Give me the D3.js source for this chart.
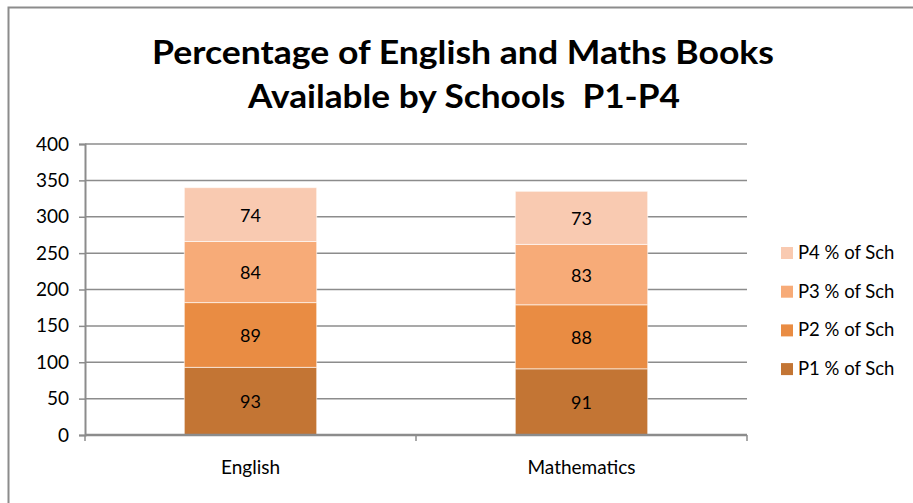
<!DOCTYPE html>
<html>
<head>
<meta charset="utf-8">
<script src="https://cdn.jsdelivr.net/npm/d3@7"></script>
<style>
  html, body { margin: 0; padding: 0; background: #fff; }
  svg { display: block; font-family: Lato, "Open Sans", sans-serif; }
</style>
</head>
<body>
<svg id="chart" width="913" height="503"></svg>
<script>
// Subjects on the x axis
const categories = ["English", "Mathematics"];
// Percentage of schools with books, per grade (stacked bottom to top)
const seriesNames = ["P1 % of Sch", "P2 % of Sch", "P3 % of Sch", "P4 % of Sch"];
const p1 = [93, 91];
const p2 = [89, 88];
const p3 = [84, 83];
const p4 = [74, 73];
const yTicks = [0, 50, 100, 150, 200, 250, 300, 350, 400];
const colors = ["#C37534", "#E98C43", "#F7AB78", "#F9CAB1"];

const svg = d3.select("#chart");
const W = 913, H = 503;

// Chart frame
svg.append("rect")
  .attr("x", 8.5).attr("y", 7.5)
  .attr("width", W + 10).attr("height", H + 10)
  .attr("fill", "#fff").attr("stroke", "#8c8c8c").attr("stroke-width", 2);

// Title
const title = svg.append("text")
  .attr("text-anchor", "middle")
  .attr("font-weight", "bold")
  .attr("font-size", 33)
  .attr("fill", "#000")
  .style("white-space", "pre");
title.append("tspan").attr("x", 463).attr("y", 64)
  .attr("textLength", 622).attr("lengthAdjust", "spacingAndGlyphs")
  .text("Percentage of English and Maths Books");
title.append("tspan").attr("x", 464).attr("y", 108)
  .attr("textLength", 432).attr("lengthAdjust", "spacingAndGlyphs")
  .text("Available by Schools  P1-P4");

const plot = { left: 85, right: 747, top: 144, bottom: 435 };

const x = d3.scaleBand().domain(categories).range([plot.left, plot.right]).paddingInner(0.6).paddingOuter(0.3);
const y = d3.scaleLinear().domain([0, 400]).range([plot.bottom, plot.top]);

// Horizontal gridlines
svg.append("g")
  .selectAll("line")
  .data(yTicks.filter(d => d > 0))
  .join("line")
  .attr("x1", plot.left).attr("x2", plot.right)
  .attr("y1", d => y(d)).attr("y2", d => y(d))
  .attr("stroke", "#8c8c8c").attr("stroke-width", 1.5);

// Stacked data
const table = categories.map((c, i) => ({
  cat: c,
  [seriesNames[0]]: p1[i],
  [seriesNames[1]]: p2[i],
  [seriesNames[2]]: p3[i],
  [seriesNames[3]]: p4[i]
}));
const stacked = d3.stack().keys(seriesNames)(table);

const layers = svg.append("g")
  .selectAll("g")
  .data(stacked)
  .join("g")
  .attr("fill", (d, i) => colors[i]);

layers.selectAll("rect")
  .data(d => d)
  .join("rect")
  .attr("x", d => x(d.data.cat))
  .attr("width", x.bandwidth())
  .attr("y", d => y(d[1]))
  .attr("height", d => y(d[0]) - y(d[1]))
  .attr("stroke", "#fff")
  .attr("stroke-opacity", 0.6)
  .attr("stroke-width", 1);

// Segment value labels
layers.selectAll("text")
  .data(d => d)
  .join("text")
  .attr("x", d => x(d.data.cat) + x.bandwidth() / 2)
  .attr("y", d => (y(d[0]) + y(d[1])) / 2 + 7)
  .attr("text-anchor", "middle")
  .attr("font-size", 18)
  .attr("fill", "#000")
  .text(d => d[1] - d[0]);

// Y axis
const yAxis = svg.append("g")
  .attr("transform", `translate(${plot.left},0)`)
  .call(d3.axisLeft(y).tickValues(yTicks).tickSize(6).tickPadding(10));
yAxis.select(".domain").attr("stroke", "#8c8c8c").attr("stroke-width", 2);
yAxis.selectAll(".tick line").attr("stroke", "#8c8c8c").attr("stroke-width", 1.5);
yAxis.selectAll(".tick text")
  .attr("font-size", 19).attr("fill", "#000")
  .attr("font-family", "Lato, 'Open Sans', sans-serif");

// X axis
const xAxis = svg.append("g")
  .attr("transform", `translate(0,${plot.bottom})`);
xAxis.append("line")
  .attr("x1", plot.left).attr("x2", plot.right)
  .attr("stroke", "#8c8c8c").attr("stroke-width", 2.5);
const boundaries = [plot.left, (plot.left + plot.right) / 2, plot.right];
xAxis.selectAll(".bound")
  .data(boundaries)
  .join("line")
  .attr("class", "bound")
  .attr("x1", d => d).attr("x2", d => d)
  .attr("y1", 0).attr("y2", 6)
  .attr("stroke", "#8c8c8c").attr("stroke-width", 1.5);
xAxis.selectAll(".cat")
  .data(categories)
  .join("text")
  .attr("class", "cat")
  .attr("x", d => x(d) + x.bandwidth() / 2)
  .attr("y", 39)
  .attr("text-anchor", "middle")
  .attr("font-size", 19)
  .attr("fill", "#000")
  .text(d => d);

// Legend (top entry is the top of the stack)
const legendItems = seriesNames.map((n, i) => ({ name: n, color: colors[i] })).reverse();
const legend = svg.append("g")
  .selectAll("g")
  .data(legendItems)
  .join("g")
  .attr("transform", (d, i) => `translate(781,${247 + i * 38.7})`);
legend.append("rect")
  .attr("width", 12).attr("height", 12)
  .attr("fill", d => d.color);
legend.append("text")
  .attr("x", 17).attr("y", 12)
  .attr("font-size", 18.5)
  .attr("fill", "#000")
  .text(d => d.name);
</script>
</body>
</html>
